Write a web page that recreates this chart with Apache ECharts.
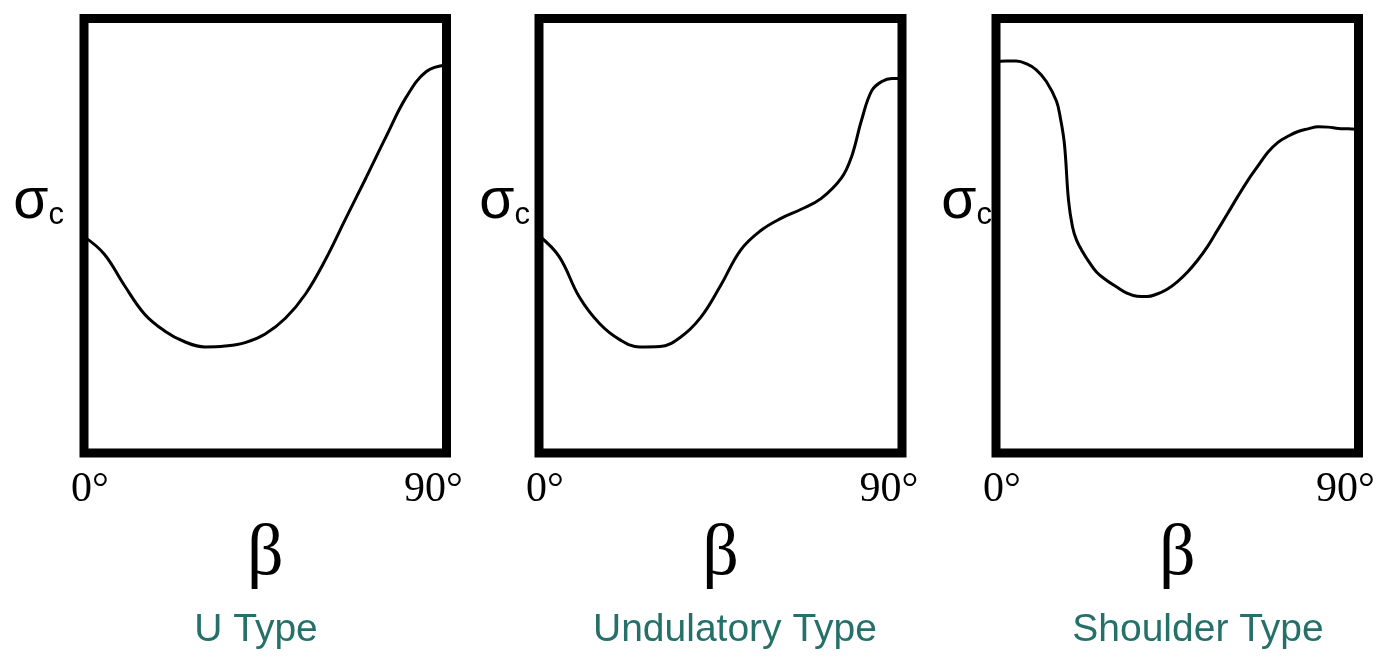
<!DOCTYPE html>
<html>
<head>
<meta charset="utf-8">
<script src="https://cdn.jsdelivr.net/npm/echarts@6.0.0/dist/echarts.min.js"></script>
<style>
  html, body { margin: 0; padding: 0; background: #fff; }
  #chart { width: 1394px; height: 659px; }
</style>
</head>
<body>
<div id="chart"></div>
<script>
// panel titles and tick labels
const typeNames = ['U Type', 'Undulatory Type', 'Shoulder Type']
const tickLabels = ['0°', '90°']
const yName = 'σ'
const ySub = 'c'
const xName = 'β'

// curves: beta (deg) vs relative sigma_c (0..100)
const uBeta = [0, 5, 10, 15, 20, 25, 30, 35, 40, 45, 50, 55, 60, 65, 70, 75, 80, 85, 90]
const uSigma = [49.8, 45.8, 38.6, 32.0, 28.1, 25.6, 24.4, 24.6, 25.4, 27.4, 31.0, 36.6, 44.6, 54.0, 63.3, 72.8, 81.9, 87.8, 89.3]

const undBeta = [0, 5, 10, 15, 20, 25, 30, 35, 40, 45, 50, 55, 60, 65, 70, 75, 77.5, 80, 82.5, 85, 87.5, 90]
const undSigma = [50.0, 45.2, 35.9, 29.8, 26.1, 24.4, 24.5, 26.6, 31.1, 38.5, 46.7, 51.2, 54.0, 56.1, 58.6, 63.3, 68.2, 76.7, 83.4, 85.5, 86.2, 86.2]

const shBeta = [0, 2.5, 5, 7.5, 10, 12.5, 15, 16, 17, 18, 19, 20, 21.5, 23, 25, 27.5, 30, 32.5, 35, 37.5, 40, 42.5, 45, 47.5, 50, 52.5, 55, 57.5, 60, 62.5, 65, 67.5, 70, 72.5, 75, 77.5, 80, 82.5, 85, 87.5, 90]
const shSigma = [90.1, 90.2, 90.2, 89.6, 88.2, 85.5, 81.0, 77.0, 71.0, 58.2, 52.0, 49.0, 46.3, 44.1, 41.6, 39.7, 38.2, 36.8, 36.1, 36.0, 36.6, 37.7, 39.4, 41.6, 44.3, 47.5, 51.3, 55.1, 59.0, 62.7, 66.0, 69.2, 71.5, 72.9, 74.0, 74.6, 75.1, 75.0, 74.7, 74.6, 74.5]

const curves = [[uBeta, uSigma], [undBeta, undSigma], [shBeta, shSigma]]

const gridLefts = [84, 539, 996]
const gridWidths = [362.5, 363, 362.5]
const nameGaps = [20, 9, 4]
const titleCenters = [251, 730, 1193]

const serif = "'Liberation Serif', 'Times New Roman', serif"
const sans = "'Liberation Sans', Arial, sans-serif"

const myChart = echarts.init(document.getElementById('chart'))

const grids = []
const xAxes = []
const yAxes = []
const series = []
const titles = []

for (let i = 0; i < 3; i++) {
  grids.push({
    left: gridLefts[i],
    top: 18.5,
    width: gridWidths[i],
    height: 434.5,
    show: true,
    borderColor: '#000',
    borderWidth: 9,
    backgroundColor: '#fff'
  })
  xAxes.push({
    type: 'value',
    gridIndex: i,
    min: 0,
    max: 90,
    interval: 90,
    axisLine: { show: false },
    axisTick: { show: false },
    splitLine: { show: false },
    axisLabel: {
      margin: 16,
      formatter: function (v) {
        return v === 0 ? '{a|' + tickLabels[0] + '}' : '{b|' + tickLabels[1] + '}'
      },
      rich: {
        a: { fontFamily: serif, fontSize: 42, color: '#000', padding: [0, 0, 0, 12] },
        b: { fontFamily: serif, fontSize: 42, color: '#000', padding: [0, 26, 0, 0] }
      }
    },
    name: xName,
    nameLocation: 'middle',
    nameGap: 66,
    nameTextStyle: { fontFamily: serif, fontSize: 72, color: '#000' }
  })
  yAxes.push({
    type: 'value',
    gridIndex: i,
    min: 0,
    max: 100,
    axisLine: { show: false },
    axisTick: { show: false },
    axisLabel: { show: false },
    splitLine: { show: false },
    name: '{s|' + yName + '}{c|' + ySub + '}',
    nameLocation: 'middle',
    nameRotate: 0,
    nameGap: nameGaps[i],
    nameTextStyle: {
      padding: [0, 0, 66, 0],
      rich: {
        s: { fontFamily: sans, fontSize: 57, color: '#000' },
        c: { fontFamily: sans, fontSize: 31, color: '#000', verticalAlign: 'bottom' }
      }
    }
  })
  series.push({
    type: 'line',
    xAxisIndex: i,
    yAxisIndex: i,
    data: curves[i][0].map((b, k) => [b, curves[i][1][k]]),
    smooth: 0.4,
    showSymbol: false,
    lineStyle: { color: '#000', width: 3 },
    z: 3
  })
  titles.push({
    text: typeNames[i],
    left: titleCenters[i],
    textAlign: 'center',
    top: 606,
    textStyle: { fontFamily: sans, fontSize: 39, fontWeight: 'normal', color: '#26706a' }
  })
}

myChart.setOption({
  backgroundColor: '#fff',
  animation: false,
  title: titles,
  grid: grids,
  xAxis: xAxes,
  yAxis: yAxes,
  series: series
})
</script>
</body>
</html>
